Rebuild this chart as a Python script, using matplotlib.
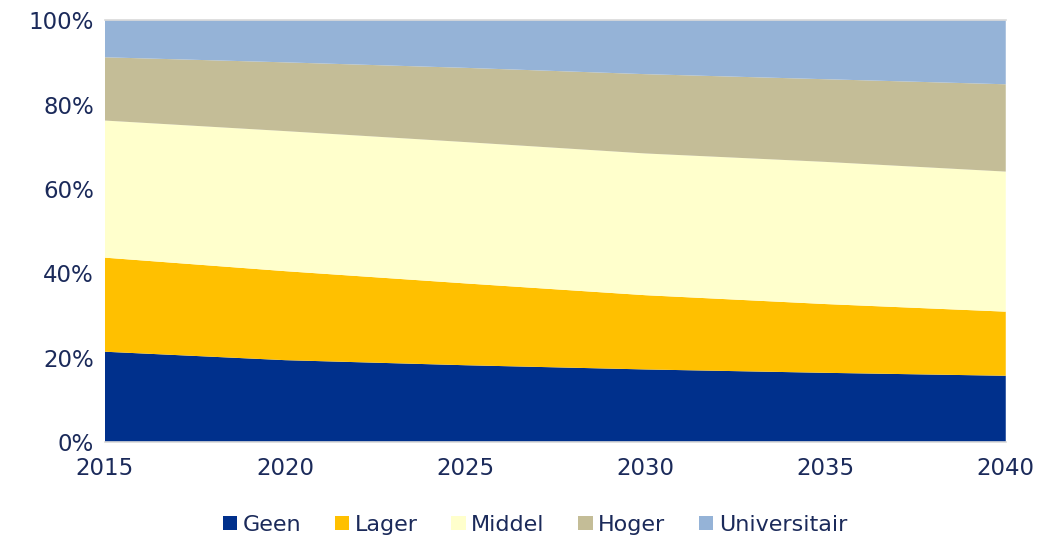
"""Opleidingsniveau 2015-2040, gestapeld vlakdiagram (aandelen in %)"""

import matplotlib
matplotlib.use("Agg")
import matplotlib.pyplot as plt
from matplotlib.patches import Patch
from matplotlib.ticker import PercentFormatter

years = [2015, 2020, 2025, 2030, 2035, 2040]

geen = [21.4, 19.4, 18.2, 17.2, 16.4, 15.7]
lager = [22.3, 21.1, 19.4, 17.6, 16.3, 15.2]
middel = [32.5, 33.2, 33.5, 33.6, 33.7, 33.2]
hoger = [15.0, 16.3, 17.6, 18.8, 19.6, 20.7]
universitair = [8.8, 10.0, 11.3, 12.8, 14.0, 15.2]

labels = ["Geen", "Lager", "Middel", "Hoger", "Universitair"]
colors = ["#00308C", "#FFC000", "#FFFFCC", "#C4BD97", "#95B3D7"]
text_color = "#1B2A5A"

fig = plt.figure(figsize=(10.39, 5.45), dpi=100)
ax = fig.add_axes([0.101, 0.189, 0.867, 0.774])

ax.stackplot(years, geen, lager, middel, hoger, universitair,
             colors=colors, labels=labels, linewidth=0)

ax.set_xlim(2015, 2040)
ax.set_ylim(0, 100)
ax.set_xticks(years)
ax.set_yticks(range(0, 101, 20))
ax.yaxis.set_major_formatter(PercentFormatter(decimals=0))
ax.tick_params(length=0, labelsize=16.5, colors=text_color, pad=8)
ax.tick_params(axis="x", pad=11)

for side in ["left", "right"]:
    ax.spines[side].set_visible(False)
for side in ["top", "bottom"]:
    ax.spines[side].set_color("#D9D9D9")
    ax.spines[side].set_linewidth(1.2)

handles = [Patch(facecolor=c, edgecolor="none") for c in colors]
leg = fig.legend(handles, labels, loc="lower center", bbox_to_anchor=(0.515, -0.018),
                 ncol=5, frameon=False, fontsize=16, handlelength=0.65,
                 handleheight=0.65, handletextpad=0.25, columnspacing=1.5)
for t in leg.get_texts():
    t.set_color(text_color)

plt.savefig("out.png", dpi=100)
plt.close()
